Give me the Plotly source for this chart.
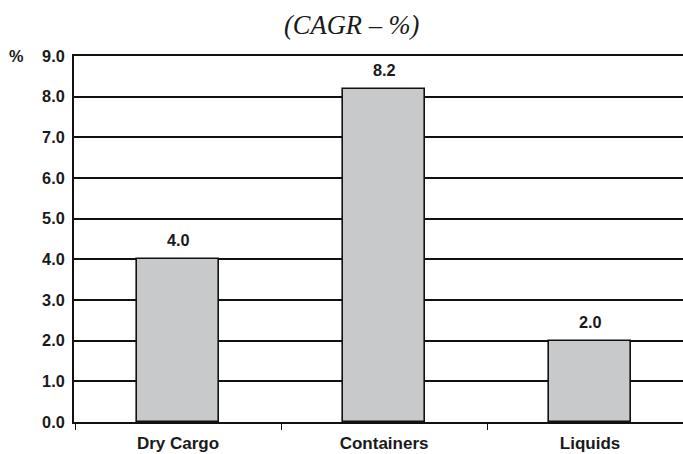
import plotly.graph_objects as go

# Cargo growth rates by segment (CAGR, %)
categories = ["Dry Cargo", "Containers", "Liquids"]
cagr_values = [4.0, 8.2, 2.0]
y_tick_values = [0, 1, 2, 3, 4, 5, 6, 7, 8, 9]
y_tick_labels = ["0.0", "1.0", "2.0", "3.0", "4.0", "5.0", "6.0", "7.0", "8.0", "9.0"]

positions = list(range(len(categories)))
boundaries = [p - 0.5 for p in positions]

num_font = dict(family="Liberation Sans, Arial, sans-serif", size=16.3, color="#1a1a1a")
cat_font = dict(family="Liberation Sans, Arial, sans-serif", size=17, color="#1a1a1a")

fig = go.Figure()
fig.add_trace(go.Bar(
    x=positions,
    y=cagr_values,
    width=0.4,
    marker=dict(color="#c8c9ca", line=dict(color="#111111", width=1.6)),
    hoverinfo="skip",
))

# Value labels above each bar
for p, v in zip(positions, cagr_values):
    fig.add_annotation(
        x=p, y=v, text=f"<b>{v:.1f}</b>", showarrow=False,
        yshift=19, yanchor="middle", font=num_font,
    )

# Unit marker next to the top tick
fig.add_annotation(
    xref="paper", yref="y", x=0, y=9, xshift=-58, text="<b>%</b>",
    showarrow=False, xanchor="center", yanchor="middle", font=num_font,
)

fig.update_layout(
    width=683, height=454,
    margin=dict(l=74, r=0, t=56, b=32, autoexpand=False),
    paper_bgcolor="white", plot_bgcolor="white",
    showlegend=False,
    bargap=0,
    title=dict(
        text="<i>(CAGR – %)</i>",
        x=0.515, xanchor="center", y=0.945, yanchor="middle",
        font=dict(family="Liberation Serif, Times New Roman, serif", size=26.5, color="#1a1a1a"),
    ),
    xaxis=dict(
        range=[-0.505, 2.451],
        tickvals=positions,
        ticktext=[f"<b>{c}</b>" for c in categories],
        ticks="", ticklabelstandoff=5,
        tickfont=cat_font,
        automargin=False,
        showgrid=False, zeroline=False,
        showline=True, linecolor="#111111", linewidth=2, mirror=True,
        minor=dict(tickvals=boundaries, ticks="outside", ticklen=6,
                   tickcolor="#111111", tickwidth=1, showgrid=False),
    ),
    yaxis=dict(
        range=[0, 9],
        tickvals=y_tick_values,
        ticktext=[f"<b>{t}</b>" for t in y_tick_labels],
        ticks="", ticklabelstandoff=4,
        tickfont=num_font,
        automargin=False,
        showgrid=True, gridcolor="#111111", gridwidth=2,
        zeroline=False,
        showline=True, linecolor="#111111", linewidth=2,
    ),
)

fig.write_html("out.html")
